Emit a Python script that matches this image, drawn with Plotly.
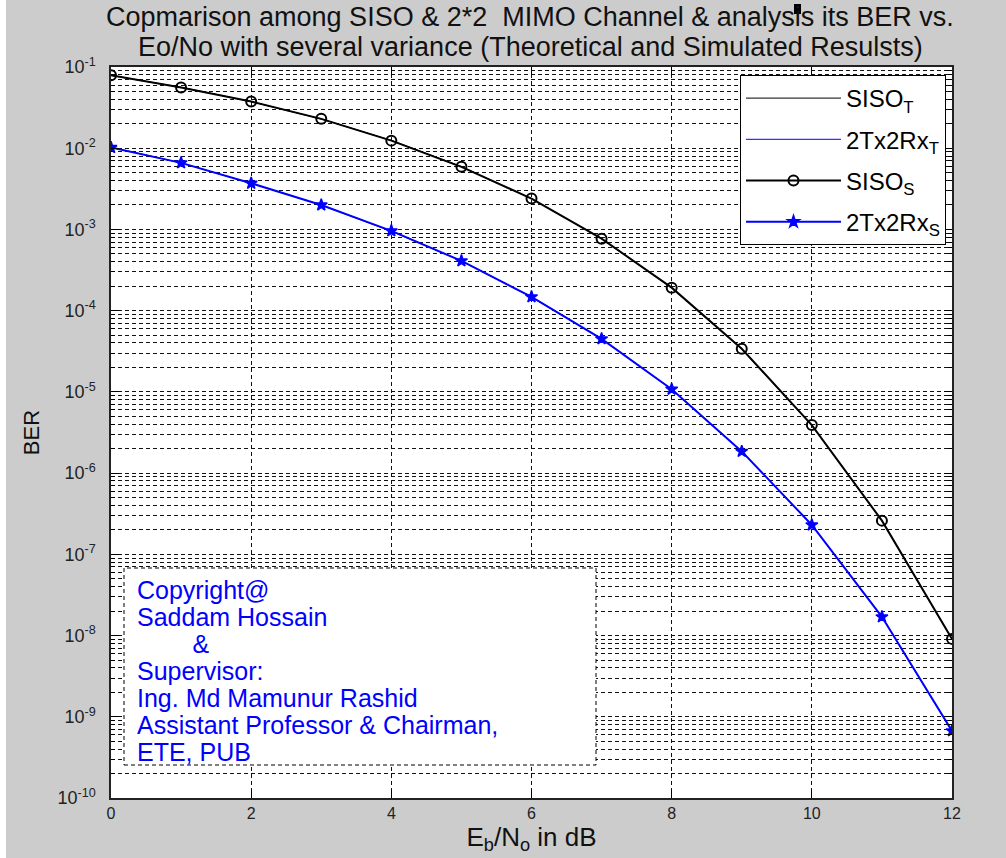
import plotly.graph_objects as go

# Eb/No grid (dB)
ebno_db = [0, 1, 2, 3, 4, 5, 6, 7, 8, 9, 10, 11, 12]

# SISO BER (theoretical and simulated)
siso_theory = [7.86e-2, 5.63e-2, 3.75e-2, 2.29e-2, 1.25e-2, 5.95e-3, 2.39e-3,
               7.73e-4, 1.91e-4, 3.36e-5, 3.87e-6, 2.61e-7, 9.0e-9]
siso_sim = [7.9e-2, 5.6e-2, 3.76e-2, 2.3e-2, 1.24e-2, 5.9e-3, 2.4e-3,
            7.7e-4, 1.92e-4, 3.4e-5, 3.9e-6, 2.6e-7, 9.1e-9]

# 2Tx2Rx BER (theoretical and simulated)
mimo_theory = [1.03e-2, 6.6e-3, 3.7e-3, 2.0e-3, 9.5e-4, 4.1e-4, 1.47e-4,
               4.5e-5, 1.08e-5, 1.86e-6, 2.3e-7, 1.7e-8, 6.6e-10]
mimo_sim = [1.02e-2, 6.6e-3, 3.7e-3, 2.0e-3, 9.6e-4, 4.1e-4, 1.48e-4,
            4.5e-5, 1.08e-5, 1.85e-6, 2.3e-7, 1.7e-8, 6.7e-10]

x_ticks = [0, 2, 4, 6, 8, 10, 12]
y_exponents = [-10, -9, -8, -7, -6, -5, -4, -3, -2, -1]
y_tickvals = [10.0 ** e for e in y_exponents]
y_ticktext = ["10<sup>%d</sup>" % e for e in y_exponents]

title_lines = ["Copmarison among SISO & 2*2  MIMO Channel & analysis its BER vs.",
               "Eo/No with several variance (Theoretical and Simulated Resulsts)"]

note_lines = ["Copyright@", "Saddam Hossain", "        &", "Supervisor:",
              "Ing. Md Mamunur Rashid", "Assistant Professor & Chairman,",
              "ETE, PUB"]

font_face = "Liberation Sans, Arial, Helvetica"

# plot-area geometry in pixels (used to place paper-referenced decorations)
L, R, T, B = 111, 952, 67, 798
W, H = R - L, B - T


def px(xp):
    return (xp - L) / W


def py(yp):
    return (B - yp) / H


fig = go.Figure()
fig.add_trace(go.Scatter(x=ebno_db, y=siso_theory, mode="lines",
                         name="SISO<sub>T</sub>", legendgroup="a",
                         line=dict(color="black", width=1)))
fig.add_trace(go.Scatter(x=ebno_db, y=mimo_theory, mode="lines",
                         name="2Tx2Rx<sub>T</sub>", legendgroup="b",
                         line=dict(color="#0000ff", width=1)))
fig.add_trace(go.Scatter(x=ebno_db, y=siso_sim, mode="lines+markers",
                         name="SISO<sub>S</sub>", legendgroup="c",
                         line=dict(color="black", width=2),
                         marker=dict(symbol="circle-open", size=10, color="black",
                                     line=dict(width=2, color="black"))))
fig.add_trace(go.Scatter(x=ebno_db, y=mimo_sim, mode="lines+markers",
                         name="2Tx2Rx<sub>S</sub>", legendgroup="d",
                         line=dict(color="#0000ff", width=2),
                         marker=dict(symbol="star", size=9, color="#0000ff",
                                     line=dict(width=1.5, color="#0000ff"))))

axis_common = dict(showline=True, linecolor="#222", linewidth=1.5, mirror="allticks",
                   ticks="inside", tickcolor="black", showgrid=True,
                   gridcolor="#111", griddash="4px,3px", gridwidth=1,
                   zeroline=False)

fig.update_xaxes(range=[0, 12], tickvals=x_ticks, ticklen=8,
                 tickfont=dict(family=font_face, size=16, color="#222"),
                 title=dict(text="E<sub>b</sub>/N<sub>o</sub> in dB",
                            font=dict(family=font_face, size=26, color="#111"),
                            standoff=0),
                 **axis_common)
fig.update_yaxes(type="log", range=[-10, -1], tickvals=y_tickvals,
                 ticktext=y_ticktext, ticklen=8, ticklabelstandoff=10,
                 tickfont=dict(family=font_face, size=18, color="#222"),
                 minor=dict(ticks="inside", ticklen=4, tickcolor="black",
                            dtick="D1", showgrid=True, gridcolor="#111",
                            griddash="4px,3px", gridwidth=1),
                 title=dict(text="BER", font=dict(family=font_face, size=22, color="#111"),
                            standoff=12),
                 **axis_common)

# Title, two lines placed individually
for text, yline in zip(title_lines, [17, 47]):
    fig.add_annotation(xref="paper", yref="paper", x=px(530), y=py(yline),
                       xanchor="center", yanchor="middle", showarrow=False,
                       text=text, font=dict(family=font_face, size=27, color="#111"))

# Small black mark in the title row
fig.add_shape(type="rect", xref="paper", yref="paper",
              x0=px(794), x1=px(801), y0=py(14), y1=py(4),
              fillcolor="black", line=dict(width=0), layer="above")

# Author / supervisor box
fig.add_shape(type="rect", xref="paper", yref="paper",
              x0=px(124), x1=px(596), y0=py(765), y1=py(568),
              fillcolor="white", line=dict(color="black", width=1, dash="4px,3px"),
              layer="above")
for i, line in enumerate(note_lines):
    fig.add_annotation(xref="paper", yref="paper", x=px(135), y=py(590 + 27 * i),
                       xanchor="left", yanchor="middle", align="left", showarrow=False,
                       text=line.replace(" ", "&nbsp;") if line.startswith(" ") else line,
                       font=dict(family=font_face, size=25, color="#0000ff"))

# thin white margin along the left edge of the figure
fig.add_shape(type="rect", xref="paper", yref="paper",
              x0=px(0), x1=px(6), y0=py(858), y1=py(0),
              fillcolor="white", line=dict(width=0), layer="above")

fig.update_layout(
    width=1006, height=858,
    margin=dict(l=L, r=1006 - R, t=T, b=858 - B),
    paper_bgcolor="#cccccc", plot_bgcolor="white",
    legend=dict(x=px(946), xanchor="right", y=py(75), yanchor="top",
                bgcolor="white", bordercolor="black", borderwidth=1,
                font=dict(family=font_face, size=24, color="black"),
                tracegroupgap=7, itemwidth=95),
    showlegend=True,
)

fig.write_html("out.html")
